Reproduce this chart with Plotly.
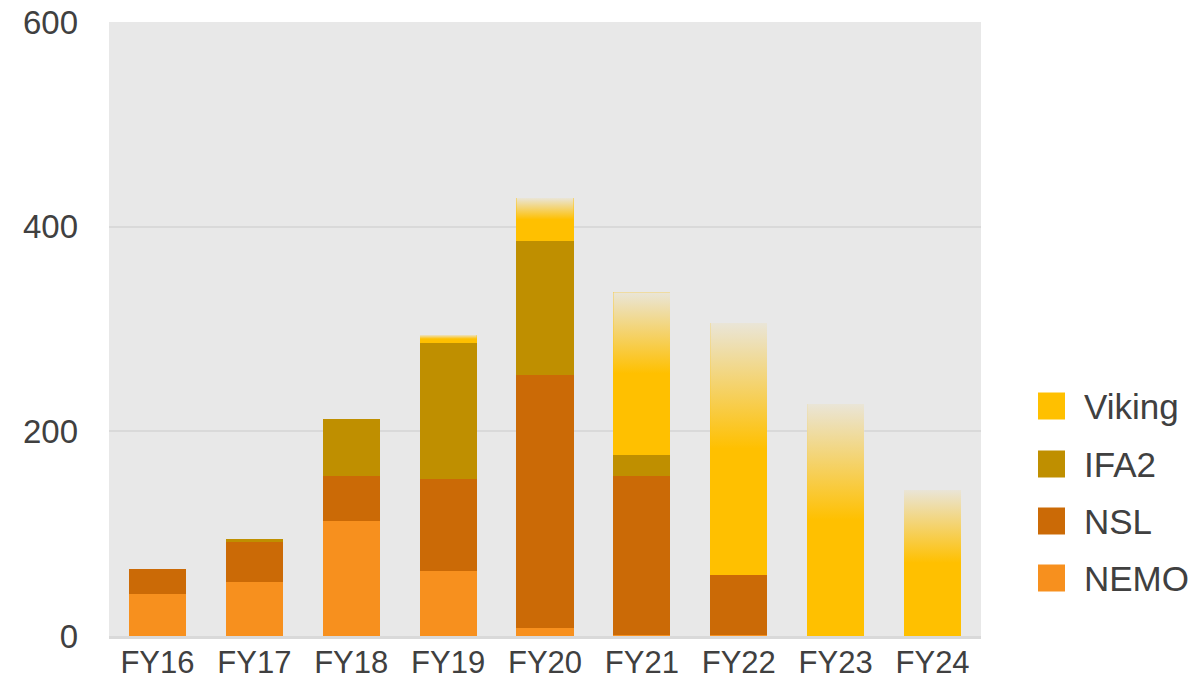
import plotly.graph_objects as go

# Interconnector capacity by fiscal year
years = ["FY16", "FY17", "FY18", "FY19", "FY20", "FY21", "FY22", "FY23", "FY24"]
nemo = [41, 53, 112, 64, 8, 1, 1, 0, 0]
nsl = [24.5, 39, 44, 89, 247, 155.5, 59, 0, 0]
ifa2 = [0, 3, 56, 133, 131, 20.5, 0, 0, 0]
viking = [0, 0, 0, 8.5, 42, 159, 246, 227, 143]

colors = {"NEMO": "#F7901E", "NSL": "#CB6A06", "IFA2": "#BF8F00", "Viking": "#FFC000"}
bg = "#E8E8E8"
font = "Liberation Sans, Arial, sans-serif"
bar_w = 0.59
xs = list(range(len(years)))

fig = go.Figure()
for name, vals in [("NEMO", nemo), ("NSL", nsl), ("IFA2", ifa2), ("Viking", viking)]:
    fig.add_trace(go.Bar(x=xs, y=vals, name=name, width=bar_w,
                         marker=dict(color=colors[name], line=dict(width=0)),
                         showlegend=False, hoverinfo="skip"))

# Viking bars fade out towards the top: overlay a gradient in the background colour
for i, v in enumerate(viking):
    if v <= 0:
        continue
    base = nemo[i] + nsl[i] + ifa2[i]
    x0, x1 = i - bar_w / 2, i + bar_w / 2
    fig.add_trace(go.Scatter(
        x=[x0, x1, x1, x0, x0], y=[base, base, base + v, base + v, base],
        mode="none", fill="toself",
        fillgradient=dict(type="vertical",
                          colorscale=[[0, "rgba(232,232,232,0)"],
                                      [0.5, "rgba(232,232,232,0)"],
                                      [1, "rgba(232,232,232,0.93)"]]),
        showlegend=False, hoverinfo="skip"))

fig.update_layout(
    barmode="stack",
    width=1200, height=682,
    margin=dict(l=109, r=219, t=22, b=46),
    paper_bgcolor="white", plot_bgcolor=bg,
    font=dict(family=font, size=33, color="#404040"),
    showlegend=False,
)
fig.update_xaxes(range=[-0.5, 8.5], tickvals=xs, ticktext=years, automargin=False,
                 showgrid=False, zeroline=False, showline=True,
                 linecolor="#D9D9D9", linewidth=3, ticks="",
                 tickfont=dict(size=31), ticklabelstandoff=-3)
fig.update_yaxes(range=[0, 600], tickvals=[0, 200, 400, 600], automargin=False,
                 showgrid=True, gridcolor="#D9D9D9", gridwidth=1.5,
                 zeroline=False, ticks="", ticklabelstandoff=30)

# hand-made legend with large square swatches
plot_l, plot_r, plot_t, plot_b = 109, 981, 22, 636
def px_x(p):
    return (p - plot_l) / (plot_r - plot_l)
def px_y(p):
    return (plot_b - p) / (plot_b - plot_t)

for name, yc in [("Viking", 406), ("IFA2", 464), ("NSL", 521), ("NEMO", 578)]:
    fig.add_shape(type="rect", xref="paper", yref="paper",
                  x0=px_x(1038), x1=px_x(1065), y0=px_y(yc + 13.5), y1=px_y(yc - 13.5),
                  fillcolor=colors[name], line=dict(width=0))
    fig.add_annotation(xref="paper", yref="paper", x=px_x(1082), y=px_y(yc),
                       text=name, showarrow=False, xanchor="left", yanchor="middle",
                       font=dict(family=font, size=35, color="#404040"))

# drop the default 8px page margin so the figure fills the window exactly
fig.write_html("out.html", config={"displayModeBar": False},
               post_script="document.body.style.margin='0';")
